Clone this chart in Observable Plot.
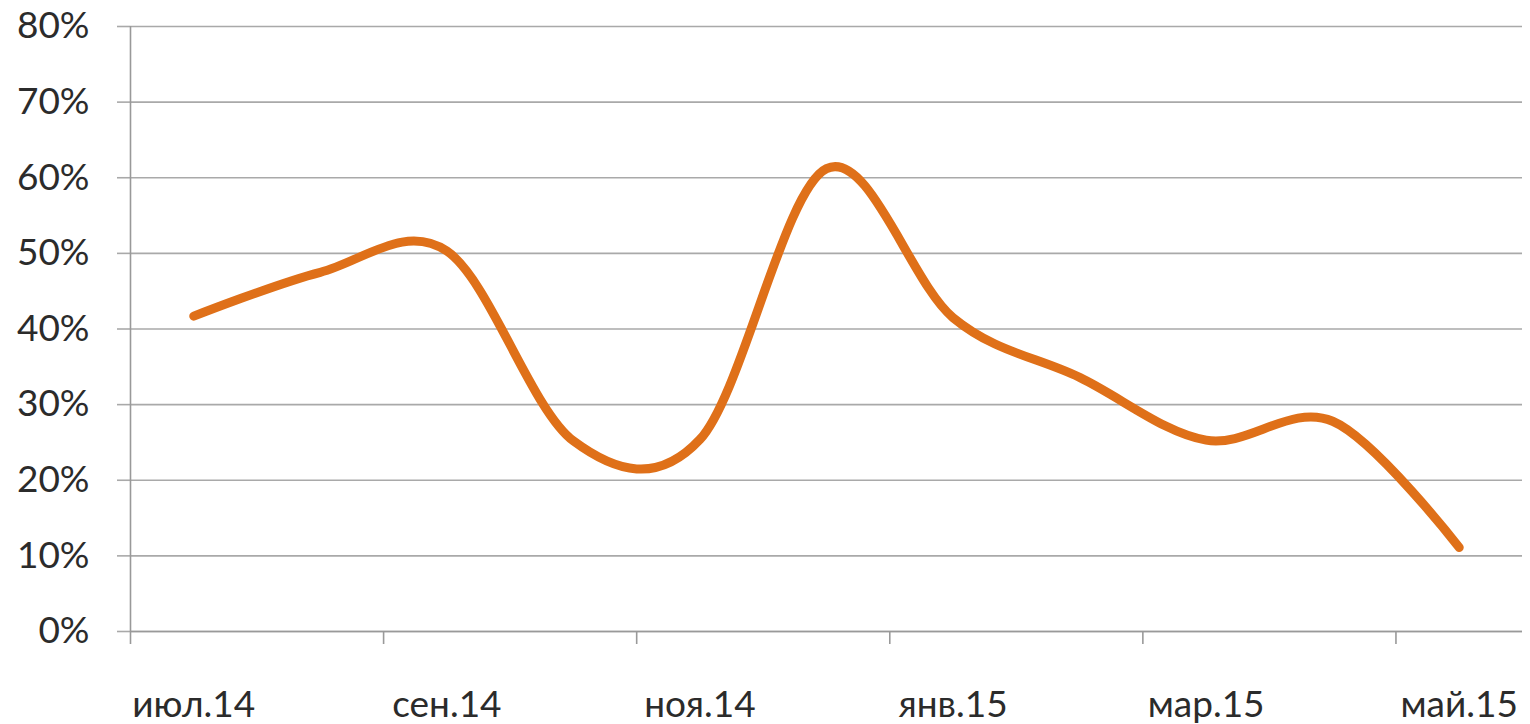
<!DOCTYPE html>
<html>
<head>
<meta charset="utf-8">
<script src="https://cdn.jsdelivr.net/npm/d3@7"></script>
<script src="https://cdn.jsdelivr.net/npm/@observablehq/plot@0.6"></script>
<style>
  html, body { margin: 0; padding: 0; background: #ffffff; }
  #chart svg { display: block; }
</style>
</head>
<body>
<div id="chart"></div>
<script>
// Categories (monthly)
const months = ["июл.14", "авг.14", "сен.14", "окт.14", "ноя.14", "дек.14", "янв.15", "фев.15", "мар.15", "апр.15", "май.15"];
// Series values (share)
const values = [0.417, 0.475, 0.503, 0.252, 0.254, 0.612, 0.415, 0.336, 0.253, 0.278, 0.111];
// Y tick values
const yTicks = [0, 0.1, 0.2, 0.3, 0.4, 0.5, 0.6, 0.7, 0.8];
// X tick marks at category boundaries (every second month)
const xBoundaryTicks = [0, 2, 4, 6, 8, 10];
// Category indices that carry a label
const labelIndices = [0, 2, 4, 6, 8, 10];

const data = months.map((m, i) => ({ pos: i + 0.5, month: m, value: values[i] }));
const labelPositions = labelIndices.map(i => i + 0.5);

const gridColor = "#a9a9a9";
const textColor = "#2b2b2b";

const chart = Plot.plot({
  width: 1530,
  height: 724,
  marginLeft: 130,
  marginRight: 8,
  marginTop: 26,
  marginBottom: 93,
  style: { fontFamily: "Lato, 'Open Sans', sans-serif", fontSize: "37px", color: textColor, background: "#ffffff" },
  x: { domain: [0, months.length] },
  y: { domain: [0, 0.8] },
  marks: [
    Plot.gridY(yTicks, { stroke: gridColor, strokeOpacity: 1, strokeWidth: 1.6 }),
    Plot.axisY(yTicks, {
      tickFormat: d3.format(".0%"),
      tickSize: 13,
      tickPadding: 28,
      stroke: gridColor,
      strokeWidth: 1.6,
      fill: textColor,
      label: null
    }),
    Plot.ruleX([0], { stroke: "#999999", strokeWidth: 1.6 }),
    Plot.ruleY([0], { stroke: "#999999", strokeWidth: 1.6 }),
    Plot.axisX(xBoundaryTicks, {
      tickSize: 13,
      tickFormat: () => "",
      stroke: "#999999",
      strokeWidth: 1.6,
      label: null
    }),
    Plot.axisX(labelPositions, {
      tickSize: 0,
      tickPadding: 59,
      tickFormat: d => months[Math.floor(d)],
      fill: textColor,
      label: null
    }),
    Plot.lineY(data, {
      x: "pos",
      y: "value",
      curve: "cardinal",
      tension: 0,
      stroke: "#df7019",
      strokeWidth: 9,
      strokeLinecap: "round",
      strokeLinejoin: "round"
    })
  ]
});

document.getElementById("chart").appendChild(chart);
</script>
</body>
</html>
